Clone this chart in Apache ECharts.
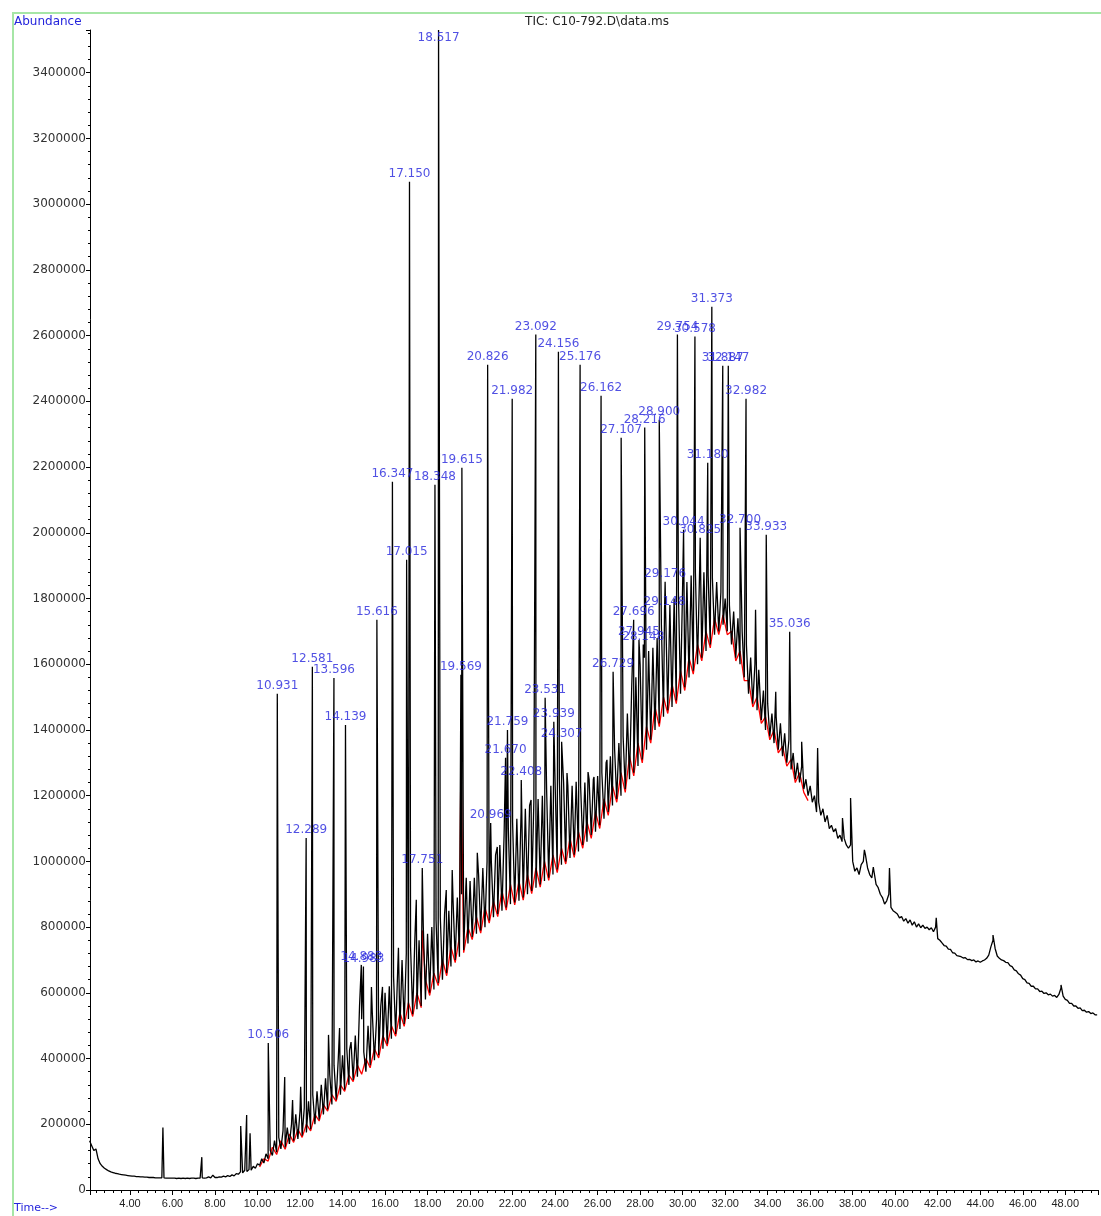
<!DOCTYPE html>
<html><head><meta charset="utf-8">
<script src="https://cdn.jsdelivr.net/npm/echarts@6/dist/echarts.min.js"></script>
<style>html,body{margin:0;padding:0;background:#fff}#c{width:1101px;height:1216px}</style>
</head><body><div id="c"></div><script>
// ---- texts ----
const titleText = 'TIC: C10-792.D\\data.ms';
const yAxisName = 'Abundance';
const xAxisName = 'Time-->';

// ---- axis ranges (minutes / abundance) ----
const xMin = 2.12, xMax = 49.54;
const yMin = 0, yMax = 3530000, yStep = 200000;

// ---- black TIC trace, abundance in thousands, one value per 0.1 min from 2.1 min ----
const scanStart = 2.1, scanStep = 0.1;
const ticK = [
150,135,120,125,95,80,72,66,62,58,
55,53,51,50,48,47,46,45,44,43,
42,42,41,41,40,40,39,39,38,38,
38,37,37,37,37,37,36,36,36,36,
36,35,36,35,36,35,36,35,36,36,
35,36,36,37,36,37,40,37,45,38,
38,40,39,42,40,44,41,46,43,50,
48,55,52,60,56,62,60,72,66,80,
75,95,82,110,95,120,105,150,115,160,
125,180,130,190,140,200,150,230,155,240,
165,250,175,270,185,290,200,300,215,320,
230,340,245,350,260,380,275,400,290,410,
305,430,320,450,335,470,345,560,520,420,
360,500,380,540,395,520,410,560,430,600,
445,620,460,650,475,680,490,700,505,720,
520,740,535,760,550,760,560,800,580,780,
600,800,610,820,630,830,640,840,660,850,
680,880,700,890,710,900,730,920,750,940,
770,950,780,960,790,980,800,1000,820,1000,
830,1020,840,1050,850,1080,860,1100,870,1120,
875,1130,880,1150,890,1160,900,1170,910,1180,
920,1190,930,1200,940,1220,950,1230,960,1240,
975,1250,990,1240,1000,1230,1010,1230,1020,1240,
1030,1230,1050,1240,1060,1250,1080,1250,1090,1260,
1110,1270,1130,1300,1150,1320,1170,1340,1190,1360,
1200,1380,1220,1450,1250,1520,1270,1560,1290,1600,
1310,1620,1340,1640,1370,1650,1400,1680,1420,1720,
1440,1760,1460,1780,1470,1800,1490,1820,1510,1840,
1530,1850,1560,1870,1580,1880,1600,1890,1620,1880,
1640,1870,1660,1860,1690,1850,1700,1820,1720,1800,
1700,1780,1660,1760,1620,1740,1600,1700,1560,1660,
1510,1620,1480,1600,1460,1560,1430,1520,1400,1480,
1380,1450,1360,1440,1340,1420,1320,1390,1300,1370,
1280,1330,1250,1300,1240,1290,1220,1250,1200,1230,
1180,1200,1150,1180,1140,1160,1120,1140,1100,1110,
1090,1100,1070,1080,1060,1070,1050,1040,1050,1000,
970,980,960,990,1000,1020,980,960,950,970,
930,920,900,890,870,880,900,860,850,845,
840,828,832,818,826,812,822,806,816,800,
810,798,806,796,800,792,798,786,800,765,
760,752,744,742,733,732,722,721,713,712,
710,706,707,701,702,698,700,694,697,693,
697,700,705,715,740,760,735,712,705,700,
698,693,692,683,680,670,667,658,654,643,
640,630,629,620,620,612,612,604,605,598,
600,594,596,590,592,586,595,615,590,580,
577,568,568,560,560,553,554,546,547,541,
543,537,539,533,533
];

// ---- red trace (lower trace), thousands, one value per 0.2 min from 10.1 min ----
const redStart = 10.1, redStep = 0.2;
const redK = [
70,95,88,130,108,150,124,170,145,185,
160,200,180,230,210,260,240,290,270,320,
300,350,330,380,352,400,372,430,402,470,
438,500,468,540,498,570,528,600,555,640,
592,660,622,700,652,740,692,770,722,800,
762,830,782,860,812,880,832,910,852,930,
868,940,882,960,902,980,922,1000,942,1020,
966,1040,992,1070,1012,1090,1040,1120,1070,1150,
1100,1190,1140,1230,1180,1270,1210,1320,1260,1360,
1300,1410,1360,1470,1410,1500,1450,1540,1480,1580,
1520,1620,1570,1660,1610,1700,1650,1740,1690,1750,
1690,1700,1610,1640,1550,1550,1470,1500,1420,1440,
1370,1400,1330,1350,1290,1310,1240,1270,1210,1185
];
const redPeaks = [[17.75, 790], [19.57, 1330]];

// ---- black trace peaks: [retention time, apex (thousands), label] ----
const peaks = [
[5.55,190,''],[7.38,100,''],[9.21,195,''],[9.49,228,''],[9.65,173,''],
[10.506,447,'10.506'],[10.931,1510,'10.931'],[11.28,344,''],[11.65,274,''],[12.03,314,''],
[12.289,1071,'12.289'],[12.581,1592,'12.581'],[13.34,472,''],[13.596,1558,'13.596'],[13.86,493,''],
[14.139,1415,'14.139'],[14.33,426,''],[14.883,685,'14.883'],[14.983,680,'14.983'],[15.36,618,''],
[15.616,1735,'15.616'],[15.88,618,''],[16.347,2155,'16.347'],[16.63,737,''],[17.015,1918,'17.015'],
[17.150,3068,'17.150'],[17.47,883,''],[17.751,980,'17.751'],[18.348,2146,'18.348'],[18.517,3530,'18.517'],
[18.88,913,''],[19.16,974,''],[19.569,1568,'19.569'],[19.615,2198,'19.615'],[19.82,950,''],[20.34,1026,''],
[20.826,2511,'20.826'],[20.969,1117,'20.969'],[21.28,1044,''],[21.670,1315,'21.670'],[21.759,1400,'21.759'],
[21.982,2408,'21.982'],[22.408,1248,'22.408'],[22.87,1187,''],[23.092,2603,'23.092'],[23.531,1498,'23.531'],
[23.939,1425,'23.939'],[24.156,2551,'24.156'],[24.307,1364,'24.307'],[24.56,1269,''],[24.99,1242,''],
[25.176,2511,'25.176'],[25.55,1272,''],[25.83,1257,''],[26.162,2417,'26.162'],[26.44,1309,''],
[26.729,1577,'26.729'],[27.107,2289,'27.107'],[27.696,1735,'27.696'],[27.945,1674,'27.945'],[28.148,1660,'28.148'],
[28.216,2320,'28.216'],[28.900,2344,'28.900'],[29.148,1765,'29.148'],[29.176,1851,'29.176'],[29.754,2603,'29.754'],
[30.044,2009,'30.044'],[30.578,2597,'30.578'],[30.825,1985,'30.825'],[31.180,2213,'31.180'],[31.373,2688,'31.373'],
[31.887,2508,'31.887'],[32.147,2508,'32.147'],[32.700,2015,'32.700'],[32.982,2408,'32.982'],[33.43,1766,''],
[33.58,1583,''],[33.933,1994,'33.933'],[34.38,1516,''],[35.036,1699,'35.036'],[35.6,1364,''],
[36.35,1345,''],[36.68,1166,''],[37.52,1132,''],[37.9,1193,''],[38.55,1035,''],[38.97,983,''],
[39.73,980,''],[41.93,828,''],[44.6,776,''],[47.8,624,'']
];

// ---- build series data ----
function build(vals, start, step, extra) {
  const d = vals.map((v, i) => [+(start + i * step).toFixed(3), v * 1000]);
  extra.forEach(p => d.push([p[0], p[1] * 1000]));
  d.sort((a, b) => a[0] - b[0]);
  return d;
}
const blackData = build(ticK, scanStart, scanStep, peaks);
const redData = build(redK, redStart, redStep, redPeaks);
const labelData = peaks.filter(p => p[2]).map(p => {
  const o = { value: [p[0], p[1] * 1000], name: p[2] };
  if (p[1] * 1000 >= yMax) o.label = { position: 'bottom', distance: 2 };
  return o;
});

const blue = '#2424dc';
const font = 'DejaVu Sans';
const chart = echarts.init(document.getElementById('c'), null, { renderer: 'canvas' });
chart.setOption({
  animation: false,
  backgroundColor: '#ffffff',
  grid: { left: 90, right: 1, top: 30, bottom: 26, containLabel: false },
  xAxis: {
    type: 'value', min: xMin, max: xMax, splitNumber: 24,
    axisLine: { show: true, onZero: false, lineStyle: { color: '#000', width: 1 } },
    axisTick: { show: true, length: 5, lineStyle: { color: '#000' } },
    minorTick: { show: true, splitNumber: 5, length: 3, lineStyle: { color: '#000' } },
    splitLine: { show: false },
    axisLabel: {
      interval: 0, margin: 8, fontFamily: 'Liberation Sans', fontSize: 11, color: '#222',
      formatter: v => (Math.abs(v / 2 - Math.round(v / 2)) < 1e-6 ? v.toFixed(2) : '')
    }
  },
  yAxis: {
    type: 'value', min: yMin, max: yMax, interval: yStep,
    axisLine: { show: true, lineStyle: { color: '#000', width: 1 } },
    axisTick: { show: true, length: 4, lineStyle: { color: '#000' } },
    minorTick: { show: true, splitNumber: 5, length: 2, lineStyle: { color: '#000' } },
    splitLine: { show: false },
    axisLabel: {
      margin: 4, fontFamily: font, fontSize: 12, color: '#333',
      formatter: v => (v % yStep === 0 ? String(v) : '')
    }
  },
  graphic: [
    { type: 'rect', silent: true, z: -1, shape: { x: 13, y: 13, width: 1100, height: 1210 },
      style: { fill: 'none', stroke: '#a6e6a6', lineWidth: 2 } },
    { type: 'text', x: 597, y: 22, style: { text: titleText, font: '12px "' + font + '"', fill: '#222', textAlign: 'center', textVerticalAlign: 'middle' } },
    { type: 'text', x: 14, y: 22, style: { text: yAxisName, font: '12px "' + font + '"', fill: blue, textAlign: 'left', textVerticalAlign: 'middle' } },
    { type: 'text', x: 14, y: 1208, style: { text: xAxisName, font: '11px "' + font + '"', fill: blue, textAlign: 'left', textVerticalAlign: 'middle' } }
  ],
  series: [
    { type: 'line', data: redData, showSymbol: false, symbol: 'none', z: 1, silent: true,
      lineStyle: { color: '#ff0000', width: 1.3 } },
    { type: 'line', data: blackData, showSymbol: false, symbol: 'none', z: 2, silent: true,
      lineStyle: { color: '#000000', width: 1.3 } },
    { type: 'scatter', data: labelData, symbolSize: 0, z: 3, silent: true,
      label: { show: true, position: 'top', distance: 2, formatter: p => p.name,
        fontFamily: font, fontSize: 12, color: blue } }
  ]
});
</script></body></html>
